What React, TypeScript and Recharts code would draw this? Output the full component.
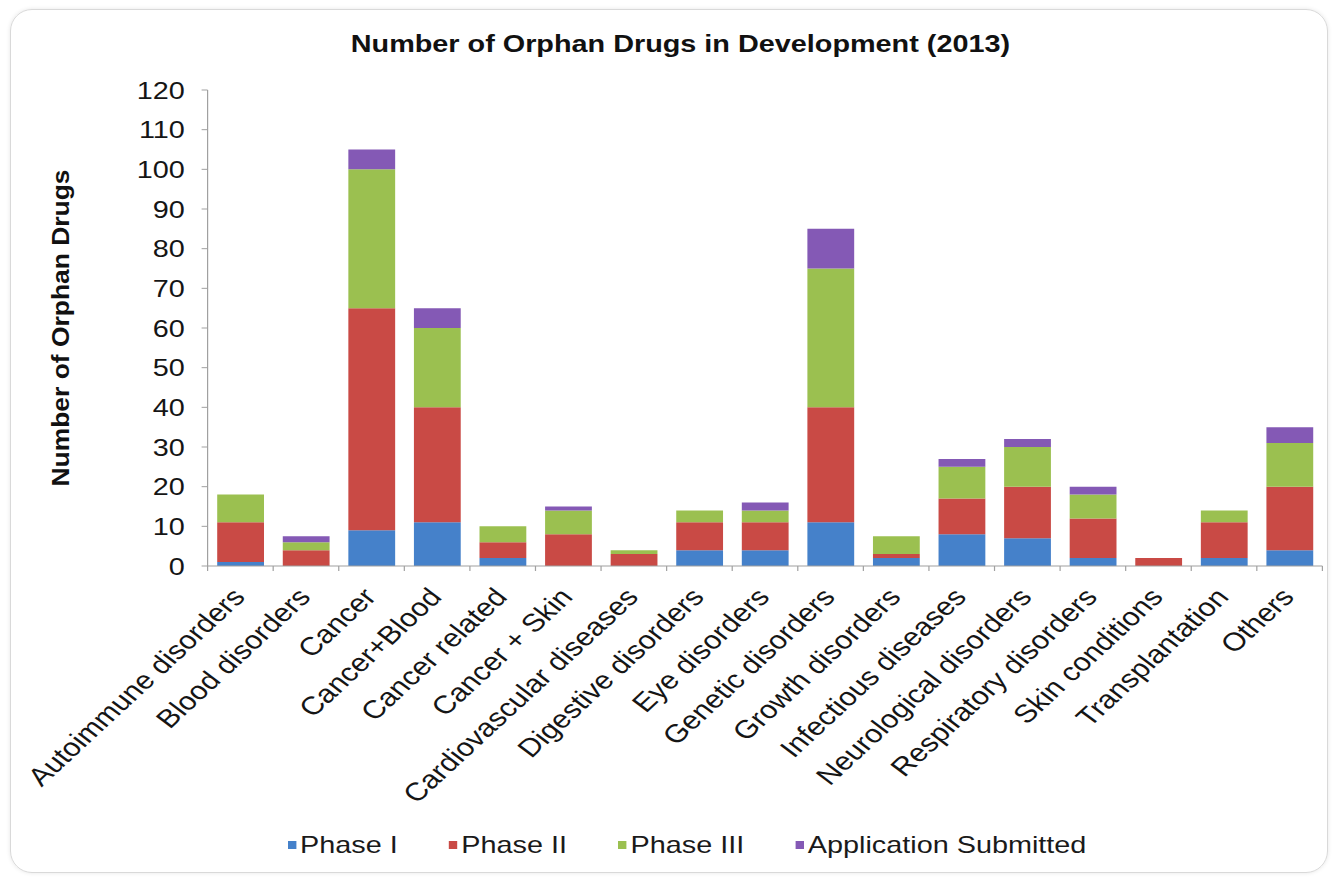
import React from 'react';
import { BarChart, Bar, XAxis, YAxis } from 'recharts';

const categories = [
  'Autoimmune disorders',
  'Blood disorders',
  'Cancer',
  'Cancer+Blood',
  'Cancer related',
  'Cancer + Skin',
  'Cardiovascular diseases',
  'Digestive disorders',
  'Eye disorders',
  'Genetic disorders',
  'Growth disorders',
  'Infectious diseases',
  'Neurological disorders',
  'Respiratory disorders',
  'Skin conditions',
  'Transplantation',
  'Others',
];

const phase1 = [1, 0, 9, 11, 2, 0, 0, 4, 4, 11, 2, 8, 7, 2, 0, 2, 4];
const phase2 = [10, 4, 56, 29, 4, 8, 3, 7, 7, 29, 1, 9, 13, 10, 2, 9, 16];
const phase3 = [7, 2, 35, 20, 4, 6, 1, 3, 3, 35, 4.5, 8, 10, 6, 0, 3, 11];
const submitted = [0, 1.5, 5, 5, 0, 1, 0, 0, 2, 10, 0, 2, 2, 2, 0, 0, 4];

const yTicks = [0, 10, 20, 30, 40, 50, 60, 70, 80, 90, 100, 110, 120];

const seriesNames = ['Phase I', 'Phase II', 'Phase III', 'Application Submitted'];
const seriesKeys = ['p1', 'p2', 'p3', 'app'];
const seriesColors = ['#4581CA', '#C94A45', '#9BC050', '#8459B5'];

const title = 'Number of Orphan Drugs in Development (2013)';
const yLabel = 'Number of Orphan Drugs';

const data = categories.map((name, i) => ({
  name,
  p1: phase1[i],
  p2: phase2[i],
  p3: phase3[i],
  app: submitted[i],
}));

// layout (local, pre-stretch coordinates)
const SX = 1.2;
const W = 1115;
const H = 881;
const LEFT = 173;
const RIGHT_M = 13;
const TOP = 90;
const XAXIS_H = 315;
const BAND = (W - LEFT - RIGHT_M) / categories.length;
const FONT = 'Arial, "Liberation Sans", Helvetica, sans-serif';

const XTick = (props: any) => {
  const { x, y, payload, index } = props;
  const half = BAND / 2;
  const tx = x + 5;
  const ty = y + 32;
  return (
    <g>
      <line x1={x - half} x2={x - half} y1={y} y2={y + 5} stroke="#a0a0a0" strokeWidth={1} />
      {index === categories.length - 1 && (
        <line x1={x + half} x2={x + half} y1={y} y2={y + 5} stroke="#a0a0a0" strokeWidth={1} />
      )}
      <text
        x={tx}
        y={ty}
        transform={`rotate(-48 ${tx} ${ty})`}
        textAnchor="end"
        fontSize={25.5}
        fontFamily={FONT}
        fill="#151515"
      >
        {payload.value}
      </text>
    </g>
  );
};

const YLabel = (p: any) => {
  const vb = p.viewBox || { y: TOP, height: 476 };
  const cx = 51;
  const cy = vb.y + vb.height / 2;
  return (
    <text
      x={cx}
      y={cy}
      transform={`rotate(-90 ${cx} ${cy})`}
      textAnchor="middle"
      dominantBaseline="central"
      fontSize={20}
      fontWeight="bold"
      fontFamily={FONT}
      fill="#111"
      textLength={317}
      lengthAdjust="spacingAndGlyphs"
    >
      {yLabel}
    </text>
  );
};

export default function App() {
  return (
    <div
      style={{
        position: 'absolute',
        left: 0,
        top: 0,
        width: 1338,
        height: 881,
        background: '#fff',
        overflow: 'hidden',
      }}
    >
      <div
        style={{
          position: 'absolute',
          left: 10,
          top: 9,
          width: 1318,
          height: 864,
          border: '1px solid #d9d9d9',
          borderRadius: 22,
          boxShadow: '0 0 4px rgba(0,0,0,0.10)',
          boxSizing: 'border-box',
        }}
      />
      <div
        style={{
          position: 'absolute',
          left: 0,
          top: 0,
          width: W,
          height: H,
          transform: `scaleX(${SX})`,
          transformOrigin: '0 0',
        }}
      >
        <div
          style={{
            position: 'absolute',
            left: 0,
            top: 30,
            width: 1134,
            textAlign: 'center',
            fontFamily: FONT,
            fontWeight: 'bold',
            fontSize: 24,
            lineHeight: '28px',
            color: '#111',
          }}
        >
          {title}
        </div>
        <BarChart
          width={W}
          height={H}
          data={data}
          margin={{ top: TOP, right: RIGHT_M, bottom: 0, left: 0 }}
        >
          <XAxis
            dataKey="name"
            interval={0}
            height={XAXIS_H}
            tick={<XTick />}
            tickLine={false}
            tickSize={0}
            tickMargin={0}
            axisLine={{ stroke: '#a0a0a0' }}
          />
          <YAxis
            width={LEFT}
            domain={[0, 120]}
            ticks={yTicks}
            interval={0}
            tickSize={5}
            tickMargin={14}
            tick={{ fontSize: 24, fill: '#151515', fontFamily: FONT }}
            axisLine={{ stroke: '#a0a0a0' }}
            tickLine={{ stroke: '#a0a0a0' }}
            label={{ content: <YLabel /> }}
          />
          {seriesKeys.map((k, i) => (
            <Bar
              key={k}
              dataKey={k}
              name={seriesNames[i]}
              stackId="s"
              fill={seriesColors[i]}
              barSize={39}
              isAnimationActive={false}
            />
          ))}
        </BarChart>
        <div
          style={{
            position: 'absolute',
            left: 240,
            top: 831,
            display: 'flex',
            alignItems: 'center',
            fontFamily: FONT,
            fontSize: 24,
            lineHeight: '28px',
            color: '#1a1a1a',
            whiteSpace: 'nowrap',
          }}
        >
          {seriesNames.map((n, i) => (
            <div key={n} style={{ display: 'flex', alignItems: 'center', marginRight: 43 }}>
              <span
                style={{
                  display: 'inline-block',
                  width: 7,
                  height: 8,
                  background: seriesColors[i],
                  marginRight: 3,
                }}
              />
              <span>{n}</span>
            </div>
          ))}
        </div>
      </div>
    </div>
  );
}
